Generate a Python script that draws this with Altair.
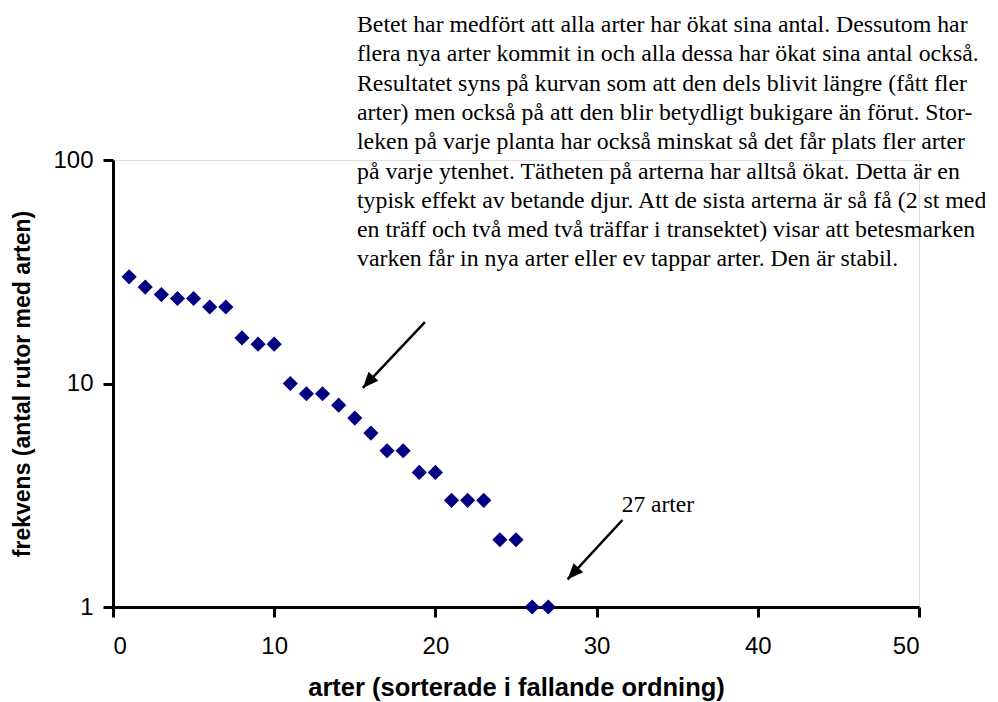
import altair as alt
import pandas as pd

# Species rank (x) and frequency (y)
arter = list(range(1, 28))
frekvens = [30, 27, 25, 24, 24, 22, 22, 16, 15, 15,
            10, 9, 9, 8, 7, 6, 5, 5, 4, 4,
            3, 3, 3, 2, 2, 1, 1]

x_ticks = [0, 10, 20, 30, 40, 50]
y_ticks = [1, 10, 100]

note_lines = [
    "Betet har medfört att alla arter har ökat sina antal. Dessutom har",
    "flera nya arter kommit in och alla dessa har ökat sina antal också.",
    "Resultatet syns på kurvan som att den dels blivit längre (fått fler",
    "arter) men också på att den blir betydligt bukigare än förut. Stor-",
    "leken på varje planta har också minskat så det får plats fler arter",
    "på varje ytenhet. Tätheten på arterna har alltså ökat. Detta är en",
    "typisk effekt av betande djur. Att de sista arterna är så få (2 st med",
    "en träff och två med två träffar i transektet) visar att betesmarken",
    "varken får in nya arter eller ev tappar arter. Den är stabil.",
]

label_text = ["27 arter"]
label_x = [33.8]
label_y = [2.86]

# arrows: start and end points (data coords)
arrow_x1 = [19.35, 31.6]
arrow_y1 = [18.8, 2.45]
arrow_x2 = [15.5, 28.2]
arrow_y2 = [9.55, 1.33]
arrow_angle = [222, 223]

df = pd.DataFrame({"x": arter, "y": frekvens})
arrows = pd.DataFrame({"x": arrow_x1, "y": arrow_y1, "x2": arrow_x2,
                       "y2": arrow_y2, "angle": arrow_angle})
labels = pd.DataFrame({"x": label_x, "y": label_y, "t": label_text})

xscale = alt.Scale(domain=[0, 50], nice=False, zero=False)
yscale = alt.Scale(type="log", domain=[1, 100], nice=False)

points = alt.Chart(df).mark_point(
    shape="diamond", filled=True, color="#000080", size=230, opacity=1, clip=False
).encode(
    x=alt.X("x:Q", scale=xscale, axis=alt.Axis(
        values=x_ticks, title="arter (sorterade i fallande ordning)",
        grid=False, domainColor="black", domainWidth=3, tickColor="black",
        tickWidth=3, tickSize=10, labelFont="Liberation Sans", labelFontSize=24,
        labelColor="black", labelPadding=17, titleFont="Liberation Sans",
        titleFontSize=25.5, titleFontWeight="bold", titleColor="black",
        titlePadding=17)),
    y=alt.Y("y:Q", scale=yscale, axis=alt.Axis(
        values=y_ticks, format="d", title="frekvens (antal rutor med arten)",
        grid=False, domainColor="black", domainWidth=3, tickColor="black",
        tickWidth=3, tickSize=10, labelFont="Liberation Sans", labelFontSize=24,
        labelColor="black", labelPadding=10, titleFont="Liberation Sans",
        titleFontSize=23, titleFontWeight="bold", titleColor="black",
        titlePadding=18)),
)

lines = alt.Chart(arrows).mark_rule(color="black", strokeWidth=2.5).encode(
    x=alt.X("x:Q", scale=xscale), y=alt.Y("y:Q", scale=yscale),
    x2="x2:Q", y2="y2:Q",
)

heads = alt.Chart(arrows).mark_point(
    shape="M0,0 L-0.42,1 L0.42,1 Z", filled=True, color="black", size=1000,
    opacity=1,
).encode(
    x=alt.X("x2:Q", scale=xscale), y=alt.Y("y2:Q", scale=yscale),
    angle=alt.Angle("angle:Q", scale=None),
)

lab = alt.Chart(labels).mark_text(
    font="Liberation Serif", fontSize=23.5, color="black", align="center",
    baseline="middle",
).encode(
    x=alt.X("x:Q", scale=xscale), y=alt.Y("y:Q", scale=yscale), text="t:N",
)

note = alt.Chart(pd.DataFrame({"a": [0]})).mark_text(
    text=note_lines, font="Liberation Serif", fontSize=23.8, color="black",
    align="left", baseline="middle", lineHeight=29.3,
).encode(x=alt.value(244), y=alt.value(-135))

chart = alt.layer(points, lines, heads, lab, note).properties(
    width=806, height=447,
    autosize=alt.AutoSizeParams(type="none"),
    padding={"left": 105, "top": 152, "right": 66, "bottom": 95},
).configure_view(stroke=None).configure(background="white")

chart.save("out.html", embed_options={"renderer": "svg", "actions": False})
